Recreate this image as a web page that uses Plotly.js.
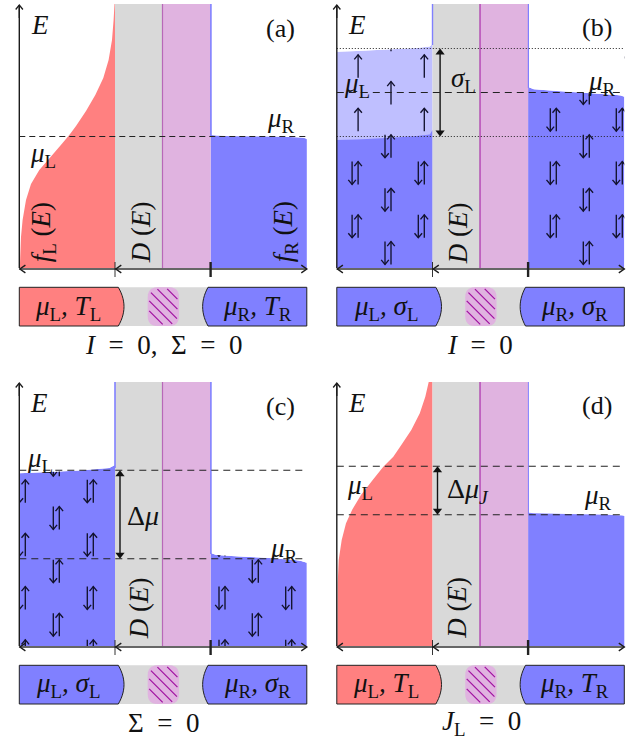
<!DOCTYPE html>
<html><head><meta charset="utf-8">
<script src="https://cdn.plot.ly/plotly-3.0.1.min.js"></script>
<style>html,body{margin:0;padding:0;background:#fff}</style>
</head><body><div id="chart" style="width:636px;height:740px"></div>
<script>
// ---- colours
const RED='#ff8080', BLUE='#8080ff', LIGHT='#bfbfff', GRAY='#d9d9d9', PINK='#e0b3e0', PURPLE='#a010a0', INK='#1c1c1c';
// ---- frame of every panel (panel units)
const leadEnd=95.7, midLine=143.2, dotEnd=191.3, frameEnd=287.5, frameTop=264;
const barTop=-19.3, barBottom=-58;
// ---- Fermi occupations: [occupation, energy]
const fermiA_x=[0,0.7,1.7,3.3,6.7,11.7,20,33,43.3,50,56.7,66.7,76,84,89.3,92.7,94.3,95.2];
const fermiA_E=[0,5,31,48,68,84,98,113,125,133,142,157,173,190,208,228,248,264];
const fermiD_x=[0,0.5,0.9,1.9,4.9,9.2,15.5,24.2,35.9,46.5,56.5,64.5,74.5,83,88.5,91.9];
const fermiD_E=[0,3,62.7,86,106,122.7,136.5,151,166,179.3,189.3,201,216,232.7,249.3,264];
// ---- blue reservoirs: tops
const topAR_x=[191.3,192,197,214,240,270,285,287.5], topAR_E=[264,133,132.2,131.8,131.5,131,130,128.7];
const topBL_x=[0,20,50,80,93,95.7,95.7], topBLlight_E=[216.3,217,218.6,220,221.5,224,264], topBLdark_E=[128,128.6,130,132,133.4,138,140];
const topBR_x=[191.3,192,197,220,250,280,284,287.5], topBR_E=[264,180.7,178.7,177,175,173,172.4,171.3];
const topCL_x=[0,30,60,90,95.7,95.7], topCL_E=[172.7,174,175.5,178,181,264];
const topCR_x=[191.3,192,197,220,250,275,281,287.5], topCR_E=[264,92.7,91,89.5,88,86,85.3,83.3];
const topDR_x=[191.3,192,197,230,270,285,287.5], topDR_E=[264,133.3,132.7,132,131.2,130.6,130];
// ---- levels
const levelsA_dash=[131.5], levelsB_dash=[175.5], levelsB_dot=[219.5,131.5], levelsC_dash=[175.7,87.3], levelsD_dash=[179.7,131.3];
// ---- spin arrow lattice
const halfArrow=11.5, pairGap=6;
const rowsB=[15,41.7,68.3,95,121.7,148.3,175,201.7,228.3];
const colsBL=[21.3,54.2,87.5], colsBR=[219.5,252.5,285.5];
const rowsC=[-5.3,21.3,48,74.7,101.3,128,154.7,181.3];
const colsCL=[6,40,74], colsCR=[205.7,239,272.4];
// ---- hatch of the central dot
const hatchOffsets=[-32,-22,-12,-2,8,18,28];
const dotLeft=128.4, dotRight=159.7, dotRadius=10;

const traces=[], annos=[];
const ax=p=>({xaxis:'x'+(p===1?'':p), yaxis:'y'+(p===1?'':p)});
function poly(p,x,y,o={}){traces.push(Object.assign({type:'scatter',mode:'lines',x,y,hoverinfo:'skip',showlegend:false,line:{color:o.color||INK,width:o.width===undefined?1:o.width,dash:o.dash||'solid',shape:o.shape||'linear',simplify:false}},o.fill?{fill:'toself',fillcolor:o.fill}:{},ax(p)));if(o.noline)traces[traces.length-1].line.width=0;}
function area(p,x,y,c,shape){poly(p,x,y,{fill:c,noline:true,color:c,shape});}
function rect(p,x0,x1,y0,y1,c){area(p,[x0,x1,x1,x0,x0],[y0,y0,y1,y1,y0],c);}
function label(p,X,Y,text,size,rot){const n=p===1?'':p;annos.push({xref:'x'+n,yref:'y'+n,x:X,y:Y,text,showarrow:false,textangle:rot||0,xanchor:'center',yanchor:'middle',font:{family:'"Liberation Serif",serif',size:size||26,color:'#111'}});}
function arrowPath(xs,ys,x,y0,y1,h=4.6,w=3.8){const s=y1>y0?1:-1;xs.push(x,x,null,x-w,x,x+w,null);ys.push(y0,y1,null,y1-s*h,y1,y1-s*h,null);}
function hArrow(xs,ys,x,y,s,h=4,w=3.4){xs.push(x-s*h,x,x-s*h,null);ys.push(y-w,y,y+w,null);}

function lattice(p,cols,rows,even,kind){
  const xs=[],ys=[];
  rows.forEach((Y,r)=>cols.forEach((X,c)=>{
    if((r+c)%2!==even) return;
    if(kind(Y)==='single'){arrowPath(xs,ys,X,Y-halfArrow,Y+halfArrow);}
    else{arrowPath(xs,ys,X,Y-halfArrow,Y+halfArrow);arrowPath(xs,ys,X-pairGap,Y+halfArrow,Y-halfArrow);}
  }));
  poly(p,xs,ys,{width:1.35,color:'#12122e'});
}
function masks(p,lx,ly,rx,ry){
  area(p,[...lx,lx[lx.length-1],0,0],[...ly,270,270,ly[0]],'#fff');
  area(p,[...rx,frameEnd,rx[0]],[...ry,270,270],'#fff');
  rect(p,-19,0,-1,270,'#fff');
  rect(p,frameEnd,299,-1,270,'#fff');
  rect(p,-19,299,-18.8,0,'#fff');
}
function centre(p,lineW){
  rect(p,leadEnd,midLine,0,frameTop,GRAY);
  rect(p,midLine,dotEnd,0,frameTop,PINK);
  poly(p,[midLine,midLine],[0,frameTop],{color:lineW>1?'#b868b8':PURPLE,width:lineW});
}
function strip(p,X,Y0,w){poly(p,[X,X],[Y0,frameTop],{color:BLUE,width:w||1.6});}
function axesLines(p){
  poly(p,[0,0],[0,263],{width:1.4,color:INK});
  let xs=[],ys=[];arrowPath(xs,ys,0,250,263,4.5,3.6);poly(p,xs,ys,{width:1.3});
  poly(p,[0,frameEnd],[-1,-1],{width:1.5,color:'#333'});
  xs=[];ys=[];hArrow(xs,ys,0.6,-1,-1,5.5,3.8);hArrow(xs,ys,leadEnd+0.8,-1,-1,5.5,3.8);hArrow(xs,ys,frameEnd,-1,1,5.5,3.8);poly(p,xs,ys,{width:1.4});
  poly(p,[leadEnd,leadEnd],[6,-9],{width:0.9});
  poly(p,[dotEnd,dotEnd],[6,-9],{width:2.4,color:'#222'});
}
function hline(p,levels,dash,w){levels.forEach(Y=>poly(p,[0,frameEnd],[Y,Y],{dash,width:w||1.1,color:'#222'}));}
function bothArrow(p,X,Y0,Y1){
  poly(p,[X,X],[Y0+3,Y1-3],{width:1.4,color:'#111'});
  traces.push(Object.assign({type:'scatter',mode:'markers',x:[X,X],y:[Y0+4,Y1-4],hoverinfo:'skip',showlegend:false,marker:{symbol:['triangle-down','triangle-up'],size:8,color:'#111'}},ax(p)));
}
function bez(x0,y0,cx,cy,x1,y1,n=14){const X=[],Y=[];for(let i=0;i<=n;i++){const t=i/n,u=1-t;X.push(u*u*x0+2*u*t*cx+t*t*x1);Y.push(u*u*y0+2*u*t*cy+t*t*y1);}return [X,Y];}
function inDot(X,Y){
  const r=dotRadius-1.5,l=dotLeft+1.5,R=dotRight-1.5,t=barTop-1.5,b=barBottom+1.5;
  if(X<l||X>R||Y>t||Y<b) return false;
  const cx=X<l+r?l+r:(X>R-r?R-r:X), cy=Y>t-r?t-r:(Y<b+r?b+r:Y);
  return Math.hypot(X-cx,Y-cy)<=r;
}
function device(p,colL,colR){
  rect(p,0,frameEnd,barBottom,barTop,GRAY);
  const mid=(barTop+barBottom)/2;
  let [a,b]=bez(99,barTop,110.4,mid,99,barBottom);
  poly(p,[0,...a,0,0],[barTop,...b,barBottom,barTop],{fill:colL,width:1,color:'#222'});
  [a,b]=bez(188.7,barTop,178,mid,188.7,barBottom);
  poly(p,[frameEnd,...a,frameEnd,frameEnd],[barTop,...b,barBottom,barTop],{fill:colR,width:1,color:'#222'});
  const r=dotRadius,Xs=[],Ys=[];
  const corners=[[dotLeft+r,barTop,dotLeft,barTop,dotLeft,barTop-r],[dotLeft,barBottom+r,dotLeft,barBottom,dotLeft+r,barBottom],[dotRight-r,barBottom,dotRight,barBottom,dotRight,barBottom+r],[dotRight,barTop-r,dotRight,barTop,dotRight-r,barTop]];
  corners.forEach(c=>{const [m,n]=bez(...c,6);Xs.push(...m);Ys.push(...n);});
  Xs.push(Xs[0]);Ys.push(Ys[0]);
  area(p,Xs,Ys,PINK);
  const hx=[],hy=[];
  hatchOffsets.forEach(o=>{
    let first=null,last=null;
    for(let t=0;t<=40;t+=0.25){const X=dotLeft+o+t,Y=barTop-t;if(inDot(X,Y)){if(first===null)first=t;last=t;}}
    if(first!==null&&last>first){hx.push(dotLeft+o+first,dotLeft+o+last,null);hy.push(barTop-first,barTop-last,null);}
  });
  poly(p,hx,hy,{color:PURPLE,width:1.2});
}
const NB='\u00A0';
const MU=s=>'<i>μ</i><sub>'+s+'</sub>';
const SG=s=>'<i>σ</i><sub>'+s+'</sub>';
const TT=s=>'<i>T</i><sub>'+s+'</sub>';
const F=(s)=>'<i>f</i><sub>'+s+'</sub>'+NB+'(<i>E</i>)';
const DE='<i>D</i>'+NB+'(<i>E</i>)';
const EQ=NB+NB+'='+NB+NB;
function fermiArea(p,x,e){
  const base=[...x].map((v,i)=>v);
  area(p,[...base,leadEnd,leadEnd,leadEnd,90,4,0,0],[...e,frameTop,2,0,0,0,0,e[1]/2],RED,'linear');
  rect(p,0,leadEnd,0,1,RED);
}

// ---------- panel (a)
fermiArea(1,fermiA_x,fermiA_E);
area(1,[...topAR_x,frameEnd,dotEnd],[...topAR_E,0,0],BLUE);
centre(1,1.2);strip(1,dotEnd+0.3,131,1.6);
hline(1,levelsA_dash,'6px,4px',1.2);axesLines(1);device(1,RED,BLUE);
label(1,21,243,'<i>E</i>',27);label(1,261,240,'(a)',26);label(1,262,148,MU('R'),27);label(1,24,113,MU('L'),27);
label(1,24,36,F('L'),27,-90);label(1,122,36,DE,27,-90);label(1,266,36,F('R'),27,-90);
label(1,49,-40,MU('L')+'<i>,</i>'+NB+TT('L'),27);label(1,238,-40,MU('R')+'<i>,</i>'+NB+TT('R'),27);label(1,144,-77,'<i>I</i>'+EQ+'0,'+NB+NB+'Σ'+EQ+'0',27);

// ---------- panel (b)
area(2,[...topBL_x.slice(0,6),leadEnd,0],[...topBLlight_E.slice(0,6),0,0],LIGHT);
area(2,[...topBL_x.slice(0,6),leadEnd,0],[...topBLdark_E.slice(0,6),0,0],BLUE);
area(2,[...topBR_x,frameEnd,dotEnd],[...topBR_E,0,0],BLUE);
lattice(2,colsBL,rowsB,1,Y=>Y>135?'single':'pair');
lattice(2,colsBR,rowsB,1,()=>'pair');
masks(2,topBL_x,topBLlight_E,topBR_x,topBR_E);
centre(2,1);strip(2,leadEnd,223,1.4);strip(2,dotEnd+0.3,180,1.2);
hline(2,levelsB_dash,'7px,5px');hline(2,levelsB_dot,'1px,2px',1);axesLines(2);device(2,BLUE,BLUE);
bothArrow(2,103.3,levelsB_dot[1],levelsB_dot[0]);
label(2,20,243,'<i>E</i>',27);label(2,260,241,'(b)',26);label(2,20,183,MU('L'),27);label(2,126.5,188,SG('L'),27);label(2,265,185,MU('R'),27);
label(2,121.5,35,DE,27,-90);
label(2,49,-40,MU('L')+'<i>,</i>'+NB+SG('L'),27);label(2,238,-40,MU('R')+'<i>,</i>'+NB+SG('R'),27);label(2,143,-77,'<i>I</i>'+EQ+'0',27);

// ---------- panel (c)
area(3,[...topCL_x.slice(0,5),leadEnd,0],[...topCL_E.slice(0,5),0,0],BLUE);
area(3,[...topCR_x,frameEnd,dotEnd],[...topCR_E,0,0],BLUE);
lattice(3,colsCL,rowsC,0,()=>'pair');lattice(3,colsCR,rowsC,0,()=>'pair');
masks(3,topCL_x,topCL_E,topCR_x,topCR_E);
centre(3,1.2);strip(3,leadEnd,178,1.6);strip(3,dotEnd+0.3,92,1.6);
hline(3,levelsC_dash,'7px,5px');axesLines(3);device(3,BLUE,BLUE);
bothArrow(3,100.7,levelsC_dash[1],levelsC_dash[0]);
label(3,20,243,'<i>E</i>',27);label(3,261,240,'(c)',26);label(3,21,186,MU('L'),27);label(3,124,131,'Δ<i>μ</i>',28);label(3,265,96,MU('R'),27);
label(3,120,38,DE,27,-90);
label(3,49,-39,MU('L')+'<i>,</i>'+NB+SG('L'),27);label(3,238,-39,MU('R')+'<i>,</i>'+NB+SG('R'),27);label(3,144,-77,'Σ'+EQ+'0',27);

// ---------- panel (d)
fermiArea(4,fermiD_x,fermiD_E);
area(4,[...topDR_x,frameEnd,dotEnd],[...topDR_E,0,0],BLUE);
centre(4,1);strip(4,dotEnd+0.3,132,1);
hline(4,levelsD_dash,'7px,5px');axesLines(4);device(4,RED,BLUE);
bothArrow(4,100.7,levelsD_dash[1],levelsD_dash[0]);
label(4,20,243,'<i>E</i>',27);label(4,260,241,'(d)',26);label(4,23,159,MU('L'),27);label(4,131,156,'Δ<i>μ</i><sub><i>J</i></sub>',28);label(4,261.5,149,MU('R'),27);
label(4,120,38,DE,27,-90);
label(4,49,-39,MU('L')+'<i>,</i>'+NB+TT('L'),27);label(4,238,-39,MU('R')+'<i>,</i>'+NB+TT('R'),27);label(4,145,-77,'<i>J</i><sub>L</sub>'+EQ+'0',27);

const hid={visible:false,fixedrange:true};
const layout={width:636,height:740,autosize:false,margin:{l:0,r:0,t:0,b:0},paper_bgcolor:'#fff',plot_bgcolor:'#fff',showlegend:false,annotations:annos,
 xaxis :{...hid,domain:[0,0.5],range:[-19.3,298.7],anchor:'y'},  yaxis :{...hid,domain:[0.5,1],range:[-102,268],anchor:'x'},
 xaxis2:{...hid,domain:[0.5,1],range:[-18.8,299.2],anchor:'y2'}, yaxis2:{...hid,domain:[0.5,1],range:[-102,268],anchor:'x2'},
 xaxis3:{...hid,domain:[0,0.5],range:[-19.3,298.7],anchor:'y3'}, yaxis3:{...hid,domain:[0,0.5],range:[-94,276],anchor:'x3'},
 xaxis4:{...hid,domain:[0.5,1],range:[-18.8,299.2],anchor:'y4'}, yaxis4:{...hid,domain:[0,0.5],range:[-94,276],anchor:'x4'}};
Plotly.newPlot('chart',traces,layout,{displayModeBar:false,staticPlot:true});
</script></body></html>
